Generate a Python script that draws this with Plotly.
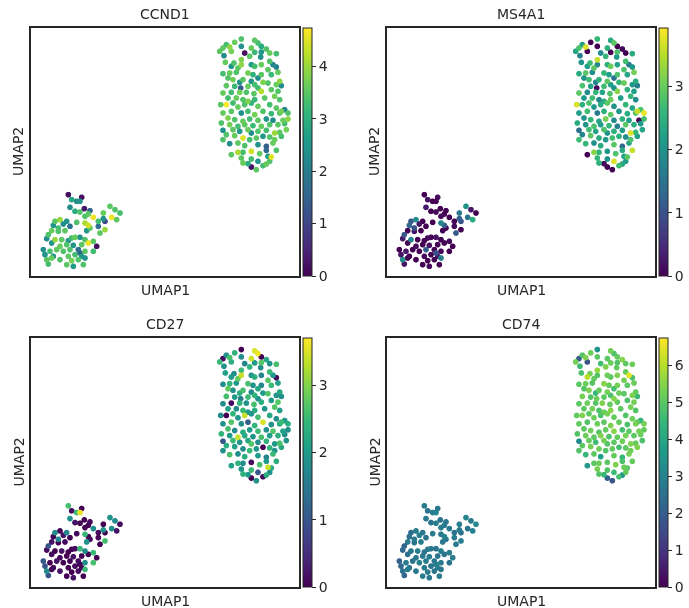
import plotly.graph_objects as go

# ---- data: UMAP coordinates (arbitrary units) ----
up_u1 = [631,611,586,576,596,631,671,681,691,706,661,641,566,579,601,671,691,689,656,716,
         736,583,609,631,601,621,631,661,671,691,716,726,736,711,576,596,616,651,666,681,
         691,721,741,591,606,626,636,661,671,696,711,736,746,751,586,611,629,651,681,691,
         721,741,576,601,626,646,669,591,616,636,651,671,701,731,746,569,586,606,621,641,
         661,681,716,736,751,761,771,576,601,631,651,671,696,721,746,591,611,636,656,681,
         706,726,756,771,571,596,621,641,666,691,716,741,761,576,606,626,651,661,681,706,
         731,746,766,586,611,636,656,676,696,716,731,751,596,621,641,681,706,726,576,621,
         601,636,661,686,706,736,631,661,681,711,721,716,636,651,661,676,696,706]
up_u2 = [711,701,694,684,687,689,707,699,689,681,684,669,674,661,674,671,672,657,659,669,
         667,641,639,649,629,624,634,634,629,634,644,634,627,619,607,609,611,609,604,594,
         604,604,611,594,589,581,589,584,574,581,579,574,584,571,571,569,564,569,564,554,
         559,554,549,551,551,551,547,534,534,529,524,529,534,539,529,514,514,519,507,514,
         519,509,514,504,494,499,489,489,494,489,494,484,494,487,489,474,469,464,471,467,
         471,467,467,471,459,454,449,454,451,449,454,454,457,437,439,434,439,429,434,437,
         429,431,439,424,421,414,409,414,419,417,409,419,397,399,391,394,389,399,409,371,
         364,371,374,367,377,377,354,351,344,359,357,344,339,337,327,319,331,336]
lo_u1 = [112,122,137,152,147,160,117,132,147,177,172,237,252,217,267,242,217,222,257,187,
         162,202,72,87,107,97,117,137,162,172,177,202,222,67,82,62,82,102,52,167,
         207,47,72,92,112,122,132,147,162,172,187,62,107,127,152,197,87,37,57,77,
         117,142,162,187,42,62,87,112,132,147,162,47,122,142,52,107,127,157,67,152,97]
lo_u2 = [244,229,224,236,224,202,206,194,192,196,186,209,199,189,189,176,172,164,169,176,
         179,164,164,169,164,156,149,161,159,152,144,149,139,152,144,136,134,136,124,136,
         129,112,109,109,106,114,116,116,109,99,104,99,94,92,94,89,89,79,74,79,
         79,79,74,74,64,54,49,59,64,69,54,49,46,49,36,34,29,34,59,59,74]

# ---- expression values ----
ccnd1_up = [3.4,3.6,3.3,3.5,3.9,2.4,3.5,3.3,2.9,3.4,3.6,0.2,3.5,2.3,3.7,3.2,2.5,2.4,3.5,3.6,
            3.3,3.6,3.4,3.8,2.5,3.5,3.9,2.6,3.3,3.6,3.4,2.2,2.0,3.5,3.3,3.6,3.4,3.7,3.0,2.3,
            3.5,3.2,3.6,3.4,3.7,2.4,3.5,2.5,3.3,3.8,3.4,3.6,3.9,2.3,3.5,3.2,1.4,3.6,3.3,4.2,
            3.5,3.4,3.6,3.3,3.7,3.4,3.5,3.3,3.6,3.4,3.8,3.2,3.5,3.7,3.4,3.5,4.7,3.3,3.6,3.4,
            3.0,3.6,3.3,3.5,3.7,2.2,3.4,3.6,3.5,2.4,3.3,3.7,3.4,3.2,3.5,3.8,3.4,3.6,3.3,3.5,
            2.5,2.3,3.6,3.9,3.4,3.7,3.3,3.5,3.2,3.6,3.4,3.5,3.3,2.4,3.5,2.5,3.6,2.3,3.4,3.3,
            4.0,3.5,3.7,3.4,3.6,4.5,3.3,3.5,2.5,3.4,3.6,3.3,2.3,3.5,3.4,2.4,1.4,3.6,3.4,4.1,
            3.5,3.3,4.4,3.6,1.6,3.4,3.5,3.3,2.4,2.6,4.5,3.4,3.6,2.9,0.2,3.5,3.3,3.6]
ccnd1_lo = [0.2,2.8,2.3,0.2,2.4,0.3,2.3,2.9,3.4,1.5,3.5,3.5,3.4,3.6,3.3,4.6,2.4,1.0,3.5,4.6,
            3.4,3.3,3.5,4.0,2.4,2.3,1.8,3.4,4.1,4.4,3.5,1.7,4.0,2.4,3.3,3.6,3.4,3.5,3.4,2.5,
            3.5,2.3,4.0,3.5,2.5,3.3,3.6,2.4,3.4,4.6,3.5,2.4,3.4,2.5,3.5,0.2,3.6,2.4,3.3,3.5,
            3.4,1.7,3.5,3.3,2.4,3.6,3.4,3.5,3.3,1.4,2.4,3.5,3.7,3.4,3.3,3.5,2.6,3.4,2.4,2.5,3.4]
ms4a1_up = [2.6,0.0,2.2,2.8,3.7,0.0,2.4,2.9,0.0,0.1, 2.5,1.9,2.3,1.7,0.0,0.0,2.8,2.1,2.6,0.0,
            2.4,2.0,2.7,3.6,2.2,2.9,1.8,2.5,3.0,2.3, 2.7,1.6,2.1,2.8,2.4,2.9,1.9,2.6,2.2,1.5,
            2.8,2.3,3.1,2.0,2.7,1.8,2.5,2.9,2.2,2.6, 3.0,2.1,2.4,1.7,2.8,2.3,0.1,2.7,2.0,3.2,
            2.5,2.2,2.9,1.9,2.6,2.3,2.8,2.1,2.7,1.8, 2.4,3.0,2.2,2.6,1.9,3.7,2.5,2.8,2.1,2.4,
            2.9,2.0,2.6,2.3,3.6,2.8,3.8,2.2,2.7,1.6, 2.5,2.9,2.1,2.4,2.8,2.0,2.6,2.3,3.1,1.9,
            2.5,2.2,0.0,2.7,2.4,2.0,2.8,2.2,2.6,1.7, 2.9,2.4,2.1,1.4,2.7,2.3,2.8,2.0,2.5,2.2,
            3.7,2.6,2.3,1.8,2.9,2.4,2.1,2.7,2.5,1.9, 2.8,2.2,2.6,2.0,2.4,2.9,1.3,2.3,2.7,3.2,
            0.0,2.5,2.1,2.8,2.4,3.6,2.6,2.0,3.7,2.3, 2.9,2.2,2.5,0.1,0.0,0.0,2.7,2.3]
ms4a1_lo = [0.0,0.2,0.0,0.1,0.0,0.0,0.3,0.0,0.1,0.0, 0.0,2.0,0.2,1.6,0.0,1.5,1.2,1.0,2.4,0.0,
            0.1,0.0,1.1,1.9,0.0,0.2,0.0,0.0,1.8,1.2, 0.0,0.1,0.0,1.3,1.0,0.0,0.2,0.0,1.1,0.0,
            1.1,0.3,1.8,0.0,0.0,0.1,0.0,0.2,0.0,0.0, 0.1,0.0,0.0,0.2,0.0,0.0,0.1,0.0,0.3,0.0,
            1.2,0.0,0.1,0.0,0.2,0.0,0.0,0.1,0.0,1.0, 1.7,1.9,0.0,0.0,0.2,0.0,0.1,0.0,0.0,0.2,0.0]
cd27_up = [0.0,2.4,1.9,0.1,2.6,1.8,3.5,3.6,0.0,2.2, 3.4,1.7,2.5,1.9,2.3,2.0,2.7,1.8,2.4,1.9,
           2.6,2.1,1.8,2.5,2.0,2.8,3.4,1.9,2.3,1.7, 2.5,2.0,0.1,2.7,1.8,2.4,2.0,2.6,1.9,2.2,
           1.7,2.5,2.1,2.8,1.9,2.3,2.6,1.8,2.4,2.0, 2.7,1.9,2.2,1.8,2.6,2.0,1.6,2.5,1.9,2.3,
           2.0,2.7,1.8,0.1,2.4,1.9,2.6,2.1,1.8,2.5, 2.0,2.3,1.9,2.7,2.1,1.8,0.0,2.4,2.0,3.4,
           1.9,2.6,2.2,1.8,2.5,2.0,2.3,1.9,2.7,1.8, 1.1,2.4,3.5,1.9,2.2,2.6,1.8,2.3,2.0,2.5,
           1.9,2.7,2.1,1.8,2.4,2.0,3.4,2.2,1.9,2.6, 2.0,2.3,1.8,1.0,2.5,1.9,2.2,2.7,1.8,2.4,
           2.0,2.6,1.9,2.3,2.1,1.8,2.5,2.0,0.0,2.4, 1.9,2.2,2.6,1.8,2.3,2.0,1.7,2.5,1.9,2.4,
           2.1,1.8,0.1,2.6,2.0,2.3,1.9,2.5,1.0,3.4, 2.2,1.8,2.4,2.0,0.0,1.9,0.1,2.3]
cd27_lo = [2.6,0.1,2.5,0.0,3.6,0.0,1.9,0.2,0.0,0.1, 0.0,1.9,1.8,0.0,0.1,1.8,1.9,0.0,0.2,1.8,
           0.0,0.1,1.8,0.0,1.7,0.2,0.0,0.1,2.5,0.0, 0.1,0.0,2.6,0.0,1.7,0.2,0.0,0.1,1.0,1.9,
           0.0,0.1,0.0,0.2,0.0,0.0,0.1,2.5,1.8,0.0, 2.5,0.1,0.0,0.2,0.0,0.0,0.1,1.0,0.0,0.2,
           0.0,0.1,1.8,2.6,1.0,0.0,0.2,0.0,0.1,0.0, 2.5,1.8,0.0,0.1,1.0,0.0,0.2,0.0,0.1,0.0,0.0]
cd74_up = [3.5,5.2,4.9,1.9,5.4,5.0,5.3,4.8,5.1,5.5, 5.0,4.7,5.3,4.6,1.7,5.2,4.9,5.1,5.4,5.0,
           5.2,4.8,5.3,5.6,6.0,5.1,4.9,5.2,5.0,5.4, 5.1,6.5,4.8,5.3,5.0,5.2,4.9,5.5,5.1,4.7,
           5.3,5.0,5.2,4.9,5.4,4.5,5.1,5.3,4.8,5.2, 5.0,5.4,5.1,4.6,5.3,4.9,5.2,5.0,5.5,5.1,
           4.8,5.3,5.0,5.2,4.9,5.4,5.1,5.0,5.3,4.8, 5.2,5.5,5.0,5.3,4.9,5.1,5.4,5.0,5.2,4.8,
           5.3,5.1,4.9,5.2,5.0,4.4,5.3,5.1,4.9,5.2, 5.0,5.4,5.1,4.8,5.3,5.0,5.2,4.9,5.1,5.5,
           4.7,5.0,5.3,5.1,4.9,5.2,5.0,5.4,4.8,5.1, 5.3,5.0,5.2,3.2,5.1,4.6,5.3,4.9,5.0,5.2,
           5.4,5.1,4.8,5.0,5.3,5.2,4.9,5.1,4.7,5.0, 5.2,5.4,4.5,5.0,3.8,5.1,4.4,5.3,4.9,5.0,
           3.6,5.2,5.0,5.4,4.8,5.1,5.3,4.9,4.6,5.2, 5.0,5.1,4.9,4.5,2.0,1.8,4.7,3.4]
cd74_lo = [2.8,2.6,2.9,2.7,3.0,2.5,2.8,2.6,2.9,2.7, 2.8,3.1,2.7,2.9,3.2,2.6,2.8,2.5,3.0,2.7,
           2.9,2.6,2.4,2.8,2.7,2.9,2.6,2.8,2.7,3.0, 2.6,2.8,2.9,2.5,2.7,2.8,2.6,2.9,2.2,2.7,
           2.8,2.3,2.7,2.9,2.6,2.8,2.7,2.5,2.9,2.6, 2.8,2.4,2.7,2.9,2.6,2.8,2.7,2.1,2.8,2.6,
           2.9,2.7,2.8,2.6,2.3,2.9,2.7,2.8,2.6,2.9, 2.7,2.5,2.8,2.6,2.2,2.9,2.7,2.8,2.6,2.7,2.9]

genes = ["CCND1", "MS4A1", "CD27", "CD74"]
values = {
    "CCND1": ccnd1_up + ccnd1_lo,
    "MS4A1": ms4a1_up + ms4a1_lo,
    "CD27": cd27_up + cd27_lo,
    "CD74": cd74_up + cd74_lo,
}
cmax = {"CCND1": 4.73, "MS4A1": 3.92, "CD27": 3.70, "CD74": 6.74}
umap1 = up_u1 + lo_u1
umap2 = up_u2 + lo_u2

W, H = 689, 608
# panel pixel boxes: (left, right, top, bottom)
boxes = [(31, 299, 28, 276), (387, 655, 28, 276), (31, 299, 338, 587), (387, 655, 338, 587)]

fig = go.Figure()
FONT = "DejaVu Sans"
annotations = []
for i, g in enumerate(genes):
    l, r, t, b = boxes[i]
    xa = "x" if i == 0 else f"x{i+1}"
    ya = "y" if i == 0 else f"y{i+1}"
    vals = values[g]
    order = sorted(range(len(vals)), key=lambda k: vals[k])
    fig.add_trace(go.Scattergl(
        x=[umap1[k] for k in order], y=[umap2[k] for k in order],
        mode="markers", xaxis=xa, yaxis=ya,
        marker=dict(size=6, color=[vals[k] for k in order], colorscale="Viridis",
                    cmin=0, cmax=cmax[g], line=dict(width=0),
                    colorbar=dict(
                        x=(r + 3.5) / W, xanchor="left", xpad=0, ypad=0,
                        y=1 - (t + b) / 2 / H, yanchor="middle",
                        len=(b - t), lenmode="pixels", thickness=9,
                        outlinewidth=1, outlinecolor="#262626",
                        ticks="outside", ticklen=4, tickwidth=1, tickcolor="#262626",
                        tickfont=dict(family=FONT, size=14, color="#262626"),
                        dtick=1, tick0=0)),
        showlegend=False, hoverinfo="skip"))
    dom_x = [l / W, r / W]
    dom_y = [1 - b / H, 1 - t / H]
    axcommon = dict(showgrid=False, zeroline=False, showticklabels=False, ticks="",
                    showline=True, mirror=True, linecolor="#262626", linewidth=1.5)
    fig.layout[("xaxis" if i == 0 else f"xaxis{i+1}")] = dict(
        domain=dom_x, range=[0, 804], anchor=ya, **axcommon)
    fig.layout[("yaxis" if i == 0 else f"yaxis{i+1}")] = dict(
        domain=dom_y, range=[0, 744], anchor=xa, **axcommon)
    cx = (l + r) / 2 / W
    annotations.append(dict(text=g, x=cx, y=1 - (t - 14) / H, xref="paper", yref="paper",
                            showarrow=False, xanchor="center", yanchor="middle",
                            font=dict(family=FONT, size=14, color="#262626")))
    annotations.append(dict(text="UMAP1", x=cx, y=1 - (b + 14) / H, xref="paper", yref="paper",
                            showarrow=False, xanchor="center", yanchor="middle",
                            font=dict(family=FONT, size=14, color="#262626")))
    annotations.append(dict(text="UMAP2", x=(l - 13) / W, y=1 - (t + b) / 2 / H,
                            xref="paper", yref="paper", textangle=-90,
                            showarrow=False, xanchor="center", yanchor="middle",
                            font=dict(family=FONT, size=14, color="#262626")))

fig.update_layout(width=W, height=H, margin=dict(l=0, r=0, t=0, b=0),
                  paper_bgcolor="white", plot_bgcolor="white",
                  annotations=annotations)
fig.write_html("out.html")
